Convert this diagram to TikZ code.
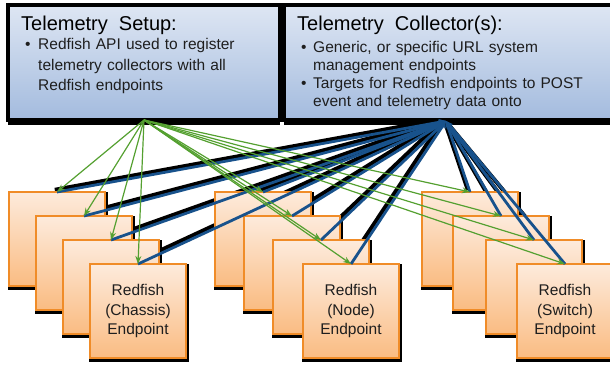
\documentclass[tikz,border=0pt]{standalone}
\usepackage{fontspec}
\setmainfont{Liberation Sans}
\usetikzlibrary{arrows.meta,shadows}

\definecolor{infotop}{RGB}{222,230,243}
\definecolor{infobot}{RGB}{163,187,222}
\definecolor{eptop}{RGB}{253,235,220}
\definecolor{epbot}{RGB}{250,188,130}
\definecolor{epline}{RGB}{240,140,40}
\definecolor{regreen}{RGB}{84,160,48}
\definecolor{postblue}{RGB}{24,82,140}
\definecolor{ink}{RGB}{30,30,30}

\pgfdeclarelayer{back}
\pgfsetlayers{back,main}

\tikzset{
  infobox/.style={draw=black, line width=3.5pt, outer sep=0pt, inner sep=0pt,
    top color=infotop, bottom color=infobot, anchor=north west, minimum height=115pt,
    general shadow={fill=black, shadow xshift=0pt, shadow yshift=-5pt}},
  epbox/.style={draw=epline, line width=1.2pt, outer sep=0pt, inner sep=0pt,
    top color=eptop, bottom color=epbot, anchor=north west,
    minimum width=96pt, minimum height=94pt, text=ink, align=center,
    font=\fontsize{15.5}{19.5}\selectfont,
    general shadow={fill=black, shadow xshift=0.6pt, shadow yshift=-1.8pt, shadow scale=1.04}},
  hdr/.style={font=\fontsize{20}{24}\selectfont, text=black, anchor=base west, inner sep=0pt},
  bul/.style={font=\fontsize{15.5}{18}\selectfont, text=ink, anchor=base west, inner sep=0pt},
  reg/.style={draw=regreen, line width=1.2pt, -{Stealth[length=8pt,width=6pt]}},
  post/.style={draw=postblue, line width=2.8pt, -{Stealth[length=7pt,width=6.5pt]}},
  postshade/.style={draw=black, line width=4pt, transform canvas={shift={(-2.2pt,2.2pt)}}}
}

\begin{document}
\begin{tikzpicture}[x=1pt,y=-1pt]
  \useasboundingbox (0,0) rectangle (610,366);

  % top boxes
  \node[infobox, minimum width=272pt] (setup) at (8,5) {};
  \node[infobox, minimum width=336pt] (coll) at (284,5) {};

  \node[hdr] (setuphd) at (21,31) {Telemetry\ \ Setup:};
  \node[bul] (setupb) at (25,50) {\textbullet};
  \node[bul, text width=250pt, align=left, font=\fontsize{15.5}{20.5}\selectfont] (setuptx) at (38,50)
    {Redfish API used to register\\telemetry collectors with all\\Redfish endpoints};

  \node[hdr] (collhd) at (297,31) {Telemetry\ \ Collector(s):};
  \node[bul] (collb1) at (301,53) {\textbullet};
  \node[bul, text width=300pt, align=left, font=\fontsize{15.5}{17.7}\selectfont] (colltx1) at (313,53)
    {Generic, or specific URL system\\management endpoints};
  \node[bul] (collb2) at (301,88.5) {\textbullet};
  \node[bul, text width=300pt, align=left, font=\fontsize{15.5}{17.7}\selectfont] (colltx2) at (313,88.5)
    {Targets for Redfish endpoints to POST\\event and telemetry data onto};

  \coordinate (collin) at (446,121);

  % endpoint stacks
  \foreach \n/\x/\y in {ch1/9/192, ch2/36/216, ch3/63/240}
    \node[epbox] (\n) at (\x,\y) {};
  \node[epbox] (ch4) at (90,264) {Redfish\\(Chassis)\\Endpoint};

  \foreach \n/\x/\y in {nd1/215/192, nd2/244/216, nd3/273/240}
    \node[epbox] (\n) at (\x,\y) {};
  \node[epbox] (nd4) at (303,264) {Redfish\\(Node)\\Endpoint};

  \foreach \n/\x/\y in {sw1/422/192, sw2/453/216, sw3/486/240}
    \node[epbox] (\n) at (\x,\y) {};
  \node[epbox] (sw4) at (517,264) {Redfish\\(Switch)\\Endpoint};

  % connectors
  \begin{pgfonlayer}{back}
    \foreach \n in {ch1,ch2,ch3,ch4,nd1,nd2,nd3,nd4,sw1,sw2,sw3,sw4}
      \draw[postshade] (\n.north) -- (collin);
  \end{pgfonlayer}
  \foreach \n in {ch1,ch2,ch3,ch4,nd1,nd2,nd3,nd4,sw1,sw2,sw3,sw4}
    \draw[post] (\n.north) -- (collin);
  \foreach \n in {ch1,ch2,ch3,ch4,nd1,nd2,nd3,nd4,sw1,sw2,sw3,sw4}
    \draw[reg] (setup.south) -- (\n.north);
\end{tikzpicture}
\end{document}
